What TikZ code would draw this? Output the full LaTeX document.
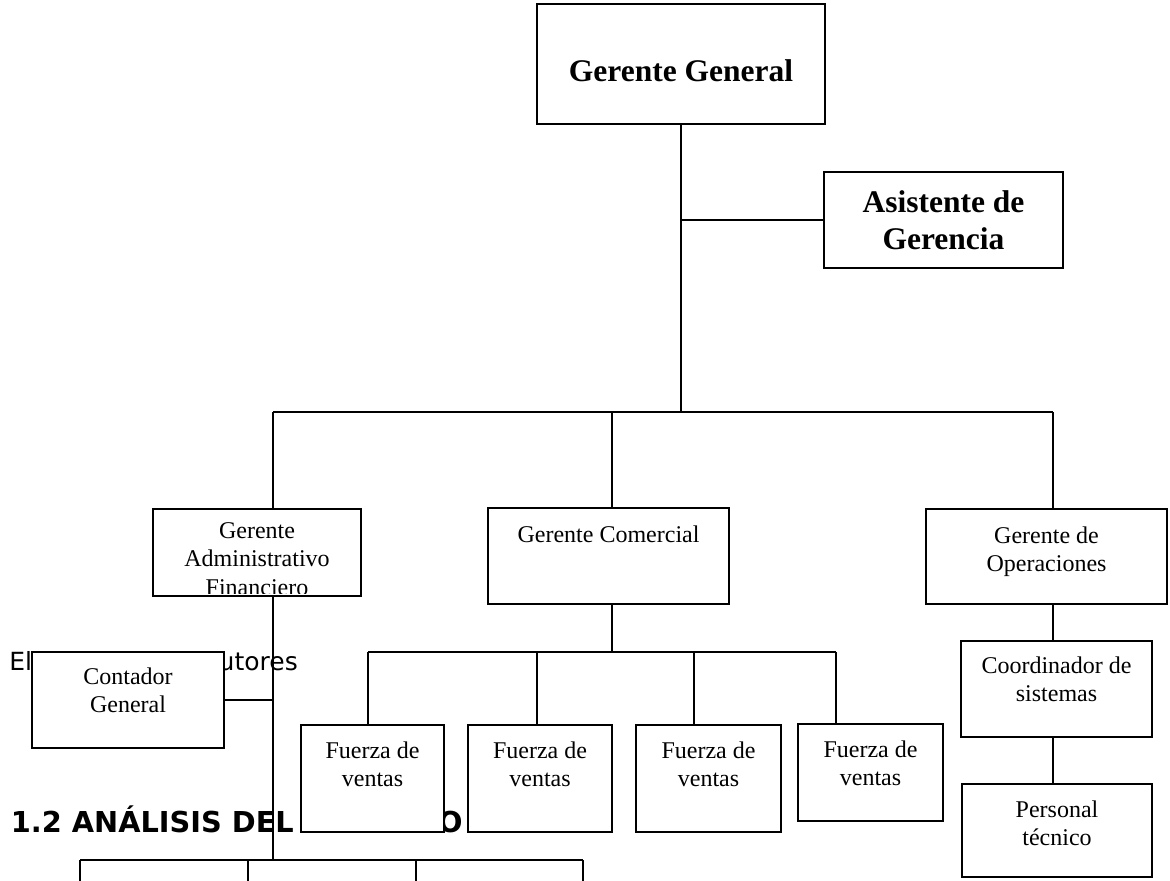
\documentclass[tikz,border=0pt]{standalone}
\usepackage{fontspec}
\setmainfont{Liberation Serif}
\newfontfamily\docsans{DejaVu Sans}
\newcommand\orglines[1]{\begin{tabular}[t]{@{}c@{}}#1\end{tabular}}
\begin{document}
\begin{tikzpicture}[x=0.5pt,y=-0.5pt,
  orgbox/.style 2 args={draw=black, line width=1pt, fill=white, rectangle,
    inner sep=0pt, minimum width=0.5pt*#1, minimum height=0.5pt*#2},
  reg/.style={font=\fontsize{12}{14.25}\selectfont, anchor=base, inner sep=0pt},
  bld/.style={font=\fontsize{15.75}{18.5}\selectfont\bfseries, anchor=base, inner sep=0pt},
  conn/.style={draw=black, line width=0.75pt},
  doctext/.style={anchor=base west, inner sep=0pt}]
\useasboundingbox (0,0) rectangle (1170,881);
\fill[white] (0,0) rectangle (1170,881);

% running document text behind the chart
\node[doctext, font=\docsans\fontsize{12.5}{15}\selectfont] (elab) at (9,670) {Elaborado por: autores};
\node[doctext, font=\docsans\bfseries\fontsize{14.4}{17}\selectfont] (sec) at (10.5,832) {1.2 ANÁLISIS DEL ENTORNO};

% boxes
\node[orgbox={288}{120}] (gg) at (681,64) {};
\node[orgbox={239}{96}] (asis) at (943.5,220) {};
\node[orgbox={208}{87}] (gaf) at (257,552.5) {};
\node[orgbox={241}{96}] (gc) at (608.5,556) {};
\node[orgbox={241}{95}] (gop) at (1046.5,556.5) {};
\node[orgbox={192}{96}] (cont) at (128,700) {};
\node[orgbox={143}{107}] (fv1) at (372.5,778.5) {};
\node[orgbox={144}{107}] (fv2) at (540,778.5) {};
\node[orgbox={145}{107}] (fv3) at (708.5,778.5) {};
\node[orgbox={145}{97}] (fv4) at (870.5,772.5) {};
\node[orgbox={191}{96}] (coord) at (1056.5,689) {};
\node[orgbox={190}{93}] (pers) at (1057,830.5) {};

% box texts
\node[bld] (gg-t) at (681,82) {Gerente General};
\node[bld] (asis-t) at (943.5,213) {\orglines{Asistente de\\Gerencia}};
\begin{scope}
  \clip (154,510) rectangle (360,593);
  \node[reg] (gaf-t) at (257,538) {\orglines{Gerente\\Administrativo\\Financiero}};
\end{scope}
\node[reg] (gc-t) at (608.5,542) {Gerente Comercial};
\node[reg] (gop-t) at (1046.5,543) {\orglines{Gerente de\\Operaciones}};
\node[reg] (cont-t) at (128,684) {\orglines{Contador\\General}};
\node[reg] (fv1-t) at (372.5,758) {\orglines{Fuerza de\\ventas}};
\node[reg] (fv2-t) at (540,758) {\orglines{Fuerza de\\ventas}};
\node[reg] (fv3-t) at (708.5,758) {\orglines{Fuerza de\\ventas}};
\node[reg] (fv4-t) at (870.5,757) {\orglines{Fuerza de\\ventas}};
\node[reg] (coord-t) at (1056.5,673) {\orglines{Coordinador de\\sistemas}};
\node[reg] (pers-t) at (1057,817) {\orglines{Personal\\técnico}};

% junctions
\coordinate (ja) at (681,220);
\coordinate (busG) at (681,412);
\coordinate (busL) at (273,412);
\coordinate (busC) at (612,412);
\coordinate (busR) at (1053,412);
\coordinate (cj) at (273,700);
\coordinate (bbL) at (80,860);
\coordinate (bb2) at (248,860);
\coordinate (bbM) at (273,860);
\coordinate (bb3) at (416,860);
\coordinate (bbR) at (583,860);
\coordinate (e1) at (80,881);
\coordinate (e2) at (248,881);
\coordinate (e3) at (416,881);
\coordinate (e4) at (583,881);
\coordinate (sL) at (368,652);
\coordinate (s2) at (537,652);
\coordinate (sC) at (612,652);
\coordinate (s3) at (694,652);
\coordinate (sR) at (836,652);

% connectors
\draw[conn] (gg.south) -- (busG);
\draw[conn] (ja) -- (asis.west);
\draw[conn] (busL) -- (busR);
\draw[conn] (busL) -- (busL |- gaf.north);
\draw[conn] (busC) -- (busC |- gc.north);
\draw[conn] (busR) -- (busR |- gop.north);
\draw[conn] (busR |- gop.south) -- (busR |- coord.north);
\draw[conn] (busR |- coord.south) -- (busR |- pers.north);
\draw[conn] (busL |- gaf.south) -- (bbM);
\draw[conn] (cont.east) -- (cj);
\draw[conn] (bbL) -- (bbR);
\draw[conn] (bbL) -- (e1);
\draw[conn] (bb2) -- (e2);
\draw[conn] (bb3) -- (e3);
\draw[conn] (bbR) -- (e4);
\draw[conn] (busC |- gc.south) -- (sC);
\draw[conn] (sL) -- (sR);
\draw[conn] (sL) -- (sL |- fv1.north);
\draw[conn] (s2) -- (s2 |- fv2.north);
\draw[conn] (s3) -- (s3 |- fv3.north);
\draw[conn] (sR) -- (sR |- fv4.north);
\end{tikzpicture}
\end{document}
